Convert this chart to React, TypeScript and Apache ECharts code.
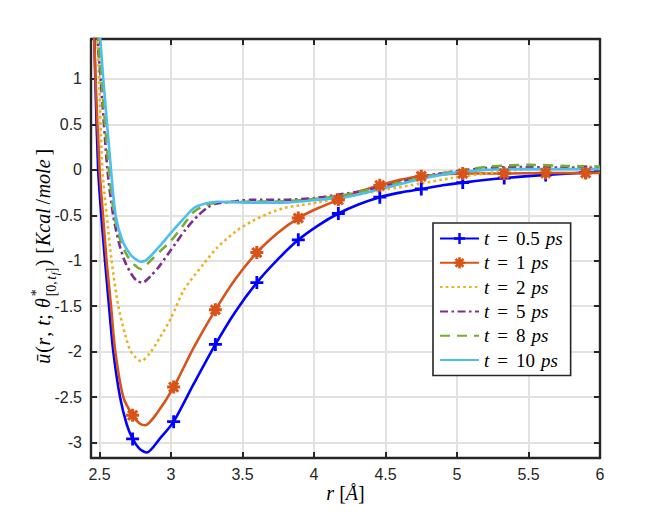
import React, { useEffect, useRef } from "react";
import * as echarts from "echarts";

// ---------- data ----------
const seriesNames = ["t = 0.5 ps", "t = 1 ps", "t = 2 ps", "t = 5 ps", "t = 8 ps", "t = 10 ps"];
const markerR = [2.731, 3.018, 3.31, 3.6, 3.89, 4.17, 4.46, 4.75, 5.04, 5.33, 5.62, 5.9];

const r05 = [2.458, 2.462, 2.47, 2.49, 2.512, 2.538, 2.566, 2.596, 2.643, 2.69, 2.731, 2.78, 2.83, 2.92, 3.018, 3.16, 3.31, 3.45, 3.6, 3.75, 3.89, 4.03, 4.17, 4.31, 4.46, 4.6, 4.75, 4.9, 5.04, 5.33, 5.62, 5.9, 6.0];
const u05 = [2.2, 1.6, 1.0, 0.0, -0.5, -1.0, -1.5, -2.0, -2.5, -2.8, -2.96, -3.07, -3.11, -2.96, -2.77, -2.35, -1.92, -1.56, -1.24, -0.98, -0.77, -0.61, -0.48, -0.38, -0.3, -0.25, -0.21, -0.17, -0.14, -0.09, -0.055, -0.03, -0.025];

const r1 = [2.455, 2.472, 2.5, 2.524, 2.549, 2.58, 2.61, 2.666, 2.731, 2.78, 2.82, 2.9, 3.018, 3.16, 3.31, 3.45, 3.6, 3.75, 3.89, 4.03, 4.17, 4.31, 4.46, 4.6, 4.75, 5.04, 5.33, 5.62, 5.9, 6.0];
const u1 = [1.8, 1.0, 0.0, -0.5, -1.0, -1.5, -2.0, -2.5, -2.7, -2.79, -2.81, -2.68, -2.39, -1.95, -1.54, -1.2, -0.91, -0.69, -0.53, -0.42, -0.33, -0.24, -0.17, -0.11, -0.07, -0.04, -0.04, -0.035, -0.035, -0.03];

const r2 = [2.462, 2.483, 2.496, 2.52, 2.55, 2.584, 2.631, 2.68, 2.713, 2.75, 2.79, 2.85, 2.92, 3.0, 3.09, 3.23, 3.32, 3.45, 3.56, 3.68, 3.79, 3.9, 4.02, 4.2, 4.49, 4.75, 4.96, 5.2, 5.42, 5.7, 6.0];
const u2 = [1.8, 1.44, 1.0, 0.0, -0.5, -1.0, -1.5, -1.82, -1.98, -2.06, -2.105, -2.02, -1.85, -1.63, -1.32, -1.03, -0.86, -0.68, -0.57, -0.48, -0.42, -0.39, -0.36, -0.3, -0.22, -0.15, -0.09, -0.04, 0.0, 0.025, 0.035];

const r5 = [2.47, 2.485, 2.508, 2.555, 2.595, 2.635, 2.675, 2.72, 2.76, 2.8, 2.856, 2.913, 3.0, 3.1, 3.19, 3.26, 3.32, 3.45, 3.555, 3.79, 4.0, 4.16, 4.35, 4.49, 4.77, 5.07, 5.25, 5.42, 5.7, 6.0];
const u5 = [1.9, 1.44, 1.0, 0.0, -0.5, -0.8, -1.0, -1.14, -1.22, -1.24, -1.17, -1.07, -0.88, -0.66, -0.5, -0.41, -0.37, -0.345, -0.33, -0.33, -0.31, -0.275, -0.23, -0.18, -0.07, 0.0, 0.025, 0.03, 0.025, 0.02];

const r8 = [2.472, 2.49, 2.513, 2.565, 2.603, 2.65, 2.696, 2.74, 2.79, 2.856, 2.92, 3.0, 3.08, 3.16, 3.24, 3.32, 3.5, 3.8, 4.0, 4.2, 4.49, 4.77, 5.0, 5.25, 5.52, 5.75, 6.0];
const u8 = [1.9, 1.44, 1.0, 0.0, -0.5, -0.8, -0.95, -1.04, -1.09, -1.0, -0.9, -0.78, -0.62, -0.46, -0.39, -0.36, -0.35, -0.345, -0.32, -0.28, -0.18, -0.08, -0.01, 0.04, 0.055, 0.045, 0.036];

const r10 = [2.485, 2.505, 2.526, 2.58, 2.612, 2.66, 2.72, 2.76, 2.785, 2.82, 2.856, 2.92, 2.995, 3.08, 3.16, 3.24, 3.32, 3.555, 3.79, 4.02, 4.256, 4.49, 4.75, 4.96, 5.2, 5.42, 6.0];
const u10 = [1.9, 1.44, 1.0, 0.0, -0.5, -0.78, -0.94, -0.99, -1.01, -1.0, -0.95, -0.84, -0.7, -0.55, -0.42, -0.37, -0.35, -0.36, -0.36, -0.33, -0.29, -0.2, -0.1, -0.036, 0.0, 0.008, 0.008];

const xMin = 2.44;
const xMax = 6;
const yMin = -3.17;
const yMax = 1.44;

// ---------- styling ----------
const INK = "#262626";
const GRIDC = "#e2e2e2";
const SERIF = "'Liberation Serif', 'Times New Roman', serif";
const SANS = "'Liberation Sans', Arial, sans-serif";
const LW = 2.6;

const PLUS = "path://M4.7,0 H7.3 V4.7 H12 V7.3 H7.3 V12 H4.7 V7.3 H0 V4.7 H4.7 Z";
const STAR =
  "path://M4.6,0 H7.4 V4.6 H12 V7.4 H7.4 V12 H4.6 V7.4 H0 V4.6 H4.6 Z " +
  "M2.75,0.8 L11.2,9.25 L9.25,11.2 L0.8,2.75 Z " +
  "M0.8,9.25 L9.25,0.8 L11.2,2.75 L2.75,11.2 Z";

function buildData(r: number[], u: number[], withMarkers: boolean) {
  return r.map((x, i) =>
    withMarkers && markerR.includes(x) ? [x, u[i]] : { value: [x, u[i]], symbol: "none" }
  );
}

function lineSeries(name: string, r: number[], u: number[], color: string, type: any, symbol: string | null) {
  return {
    type: "line",
    name,
    data: buildData(r, u, !!symbol),
    symbol: symbol || "circle",
    symbolSize: 13,
    showSymbol: true,
    showAllSymbol: true,
    smooth: 0.25,
    clip: true,
    itemStyle: symbol ? { color, borderWidth: 0 } : { color, borderWidth: 0, opacity: 0 },
    lineStyle: { color, width: LW, type, cap: "butt", opacity: 1 },
    emphasis: { disabled: true },
    z: 3,
  };
}

function measure(text: string, italic: boolean, size: number): number {
  const c = document.createElement("canvas").getContext("2d");
  if (!c) return text.length * size * 0.45;
  c.font = `${italic ? "italic " : ""}${size}px ${SERIF}`;
  return c.measureText(text).width;
}

function yTitle() {
  type Seg = { t: string; s: number; it: boolean; dy: number };
  const main = 20;
  const sub = 14;
  const before: Seg[] = [
    { t: "ū", s: main, it: true, dy: 0 },
    { t: "(", s: main, it: false, dy: 0 },
    { t: "r", s: main, it: true, dy: 0 },
    { t: ", ", s: main, it: false, dy: 0 },
    { t: "t", s: main, it: true, dy: 0 },
    { t: "; ", s: main, it: false, dy: 0 },
    { t: "θ", s: main, it: true, dy: 0 },
  ];
  const subSegs: Seg[] = [
    { t: "[0,", s: sub, it: false, dy: 6 },
    { t: "t", s: sub, it: true, dy: 6 },
    { t: "f", s: 10, it: true, dy: 9 },
    { t: "]", s: sub, it: false, dy: 6 },
  ];
  const after: Seg[] = [
    { t: ")", s: main, it: false, dy: 0 },
    { t: " [", s: main, it: false, dy: 0 },
    { t: "Kcal", s: main, it: true, dy: 0 },
    { t: "/", s: main, it: false, dy: 0 },
    { t: "mole", s: main, it: true, dy: 0 },
    { t: "]", s: main, it: false, dy: 0 },
  ];
  const placed: { sg: Seg; x: number }[] = [];
  let x = 0;
  const spread = 1.1;
  const place = (arr: Seg[]) => {
    arr.forEach((sg) => {
      placed.push({ sg, x });
      x += measure(sg.t, sg.it, sg.s) * spread;
    });
  };
  place(before);
  const blockStart = x + 1;
  const star: Seg = { t: "*", s: sub, it: false, dy: -9 };
  placed.push({ sg: star, x: blockStart });
  x = blockStart;
  place(subSegs);
  const starW = measure("*", false, sub);
  x = Math.max(x, blockStart + starW) + 1;
  place(after);
  const total = x;
  return {
    type: "group",
    x: 50,
    y: 256,
    rotation: Math.PI / 2,
    silent: true,
    children: placed.map(({ sg, x: px }) => ({
      type: "text",
      x: px - total / 2,
      y: sg.dy - 0.33 * sg.s,
      style: {
        text: sg.t,
        fontFamily: SERIF,
        fontSize: sg.s,
        fontStyle: sg.it ? "italic" : "normal",
        fill: "#000",
        align: "left",
        verticalAlign: "middle",
      },
    })),
  };
}

const App: React.FC = () => {
  const ref = useRef<HTMLDivElement>(null);

  useEffect(() => {
    if (!ref.current) return;
    const chart = echarts.init(ref.current, undefined, { renderer: "svg" });

    const axisCommon = {
      type: "value",
      axisLine: { show: true, onZero: false, lineStyle: { color: INK, width: 2.4 } },
      axisTick: { show: true, inside: true, length: 6, lineStyle: { color: INK, width: 2 } },
    };

    const series = [
      lineSeries(seriesNames[0], r05, u05, "#0000ff", "solid", PLUS),
      lineSeries(seriesNames[1], r1, u1, "#D95319", "solid", STAR),
      lineSeries(seriesNames[2], r2, u2, "#EDB120", [2.6, 3.2], null),
      lineSeries(seriesNames[3], r5, u5, "#7E2F8E", [8, 3.5, 2.5, 3.5], null),
      lineSeries(seriesNames[4], r8, u8, "#77AC30", [10, 7], null),
      lineSeries(seriesNames[5], r10, u10, "#4DBEEE", "solid", null),
    ];

    const rich = {
      i: { fontFamily: SERIF, fontStyle: "italic", fontSize: 19, lineHeight: 19, color: "#000" },
      e: { fontFamily: SERIF, fontSize: 19, lineHeight: 19, color: "#000", padding: [0, 8, 0, 8] },
      n: { fontFamily: SERIF, fontSize: 19, lineHeight: 19, color: "#000" },
      p: { fontFamily: SERIF, fontStyle: "italic", fontSize: 19, lineHeight: 19, color: "#000", padding: [0, 0, 0, 6] },
    };

    const option: any = {
      animation: false,
      backgroundColor: "#ffffff",
      grid: { left: 91, top: 39, width: 509, height: 419, containLabel: false, outerBoundsMode: "none" },
      xAxis: [
        {
          ...axisCommon,
          position: "bottom",
          min: xMin,
          max: xMax,
          splitNumber: 7,
          splitLine: { show: true, lineStyle: { color: GRIDC, width: 2 } },
          axisLabel: {
            show: true,
            margin: 8,
            fontFamily: SANS,
            fontSize: 16,
            color: INK,
            showMinLabel: false,
            formatter: (v: number) => (Math.abs(v * 2 - Math.round(v * 2)) < 1e-6 ? String(v) : ""),
          },
        },
        {
          ...axisCommon,
          position: "top",
          min: xMin,
          max: xMax,
          splitNumber: 7,
          splitLine: { show: false },
          axisLabel: { show: false },
        },
      ],
      yAxis: [
        {
          ...axisCommon,
          position: "left",
          min: yMin,
          max: yMax,
          splitNumber: 9,
          splitLine: { show: true, lineStyle: { color: GRIDC, width: 2 } },
          axisLabel: {
            show: true,
            margin: 9,
            fontFamily: SANS,
            fontSize: 16,
            color: INK,
            showMinLabel: false,
            showMaxLabel: false,
            formatter: (v: number) => (Math.abs(v * 2 - Math.round(v * 2)) < 1e-6 ? String(v) : ""),
          },
        },
        {
          ...axisCommon,
          position: "right",
          min: yMin,
          max: yMax,
          splitNumber: 9,
          splitLine: { show: false },
          axisLabel: { show: false },
        },
      ],
      legend: {
        show: true,
        orient: "vertical",
        left: 433,
        top: 223,
        itemWidth: 39,
        itemHeight: 14,
        itemGap: 5.3,
        padding: [6, 8, 6, 6],
        backgroundColor: "#ffffff",
        borderColor: INK,
        borderWidth: 1.6,
        borderRadius: 0,
        selectedMode: false,
        data: seriesNames,
        formatter: (name: string) => {
          const num = name.split(" ")[2];
          return `{i|t}{e|=}{n|${num}}{p|ps}`;
        },
        textStyle: {
          color: "#000",
          fontSize: 19,
          lineHeight: 19,
          fontFamily: SERIF,
          rich,
        },
      },
      graphic: [
        yTitle(),
        {
          type: "text",
          x: 345.5,
          y: 493,
          silent: true,
          style: {
            text: "{i|r} {n|[}{i|Å}{n|]}",
            align: "center",
            verticalAlign: "middle",
            fontFamily: SERIF,
            fontSize: 20,
            rich: {
              i: { fontFamily: SERIF, fontStyle: "italic", fontSize: 20, fill: "#000" },
              n: { fontFamily: SERIF, fontSize: 20, fill: "#000" },
            },
          },
        },
      ],
      series,
    };

    chart.setOption(option);
    return () => {
      chart.dispose();
    };
  }, []);

  return (
    <div
      ref={ref}
      style={{ position: "absolute", left: 0, top: 0, width: 664, height: 531, background: "#fff" }}
    />
  );
};

export default App;
